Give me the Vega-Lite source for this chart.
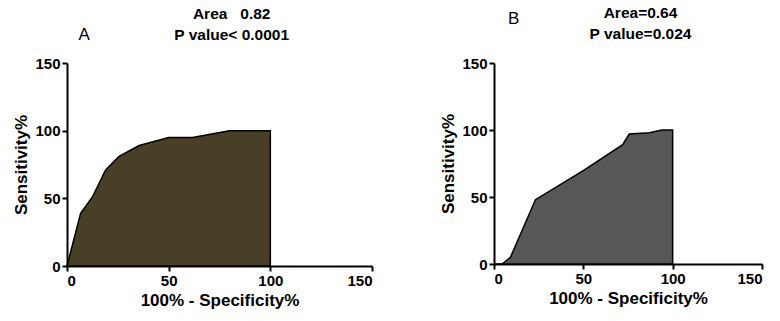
{
  "$schema": "https://vega.github.io/schema/vega-lite/v6.json",
  "background": "white",
  "padding": {"left": 12, "top": 6, "right": 5, "bottom": 5},
  "spacing": 66,
  "config": {
    "view": {"stroke": null},
    "font": "Liberation Sans",
    "axis": {
      "grid": false,
      "domainColor": "black",
      "domainWidth": 2,
      "tickColor": "black",
      "tickWidth": 2,
      "tickSize": 5,
      "labelFont": "Liberation Sans",
      "labelFontWeight": "bold",
      "labelFontSize": 15,
      "labelColor": "black",
      "titleFont": "Liberation Sans",
      "titleFontWeight": "bold",
      "titleFontSize": 17,
      "titleColor": "black"
    }
  },
  "datasets": {
    "rocA": [
      {"fpr": 0, "sens": 0},
      {"fpr": 6.7, "sens": 39},
      {"fpr": 12.5, "sens": 51},
      {"fpr": 19, "sens": 71},
      {"fpr": 25.6, "sens": 81},
      {"fpr": 35.5, "sens": 89},
      {"fpr": 50, "sens": 95},
      {"fpr": 61.7, "sens": 95},
      {"fpr": 80, "sens": 100},
      {"fpr": 100, "sens": 100}
    ],
    "rocB": [
      {"fpr": 0, "sens": 0},
      {"fpr": 4.5, "sens": 0},
      {"fpr": 9.2, "sens": 5},
      {"fpr": 23.2, "sens": 48},
      {"fpr": 50.4, "sens": 70},
      {"fpr": 72, "sens": 89},
      {"fpr": 75.7, "sens": 97},
      {"fpr": 87, "sens": 98},
      {"fpr": 94, "sens": 100},
      {"fpr": 100, "sens": 100}
    ],
    "headA": [
      {"t": "Area\u00a0\u00a0\u00a00.82", "x": 81, "y": 186},
      {"t": "P value< 0.0001", "x": 81, "y": 171}
    ],
    "panA": [{"t": "A", "x": 8.4, "y": 171}],
    "headB": [
      {"t": "Area=0.64", "x": 82, "y": 187},
      {"t": "P value=0.024", "x": 82, "y": 172}
    ],
    "panB": [{"t": "B", "x": 11, "y": 183}]
  },
  "hconcat": [
    {
      "width": 305,
      "height": 203,
      "layer": [
        {
          "data": {"name": "rocA"},
          "mark": {"type": "area", "fill": "#483f26", "stroke": "black", "strokeWidth": 1.5},
          "encoding": {
            "x": {"field": "fpr", "type": "quantitative", "scale": {"domain": [0, 150], "nice": false}, "axis": {"values": [0, 50, 100, 150]}, "title": "100% - Specificity%"},
            "y": {"field": "sens", "type": "quantitative", "scale": {"domain": [0, 150], "nice": false}, "axis": {"values": [0, 50, 100, 150]}, "title": "Sensitivity%"}
          }
        },
        {
          "data": {"name": "headA"},
          "mark": {"type": "text", "fontSize": 15.5, "fontWeight": "bold", "font": "Liberation Sans", "align": "center", "baseline": "middle", "clip": false},
          "encoding": {
            "x": {"field": "x", "type": "quantitative", "scale": {"domain": [0, 150], "nice": false}},
            "y": {"field": "y", "type": "quantitative", "scale": {"domain": [0, 150], "nice": false}},
            "text": {"field": "t"}
          }
        },
        {
          "data": {"name": "panA"},
          "mark": {"type": "text", "fontSize": 17, "font": "Liberation Sans", "align": "center", "baseline": "middle", "clip": false},
          "encoding": {
            "x": {"field": "x", "type": "quantitative", "scale": {"domain": [0, 150], "nice": false}},
            "y": {"field": "y", "type": "quantitative", "scale": {"domain": [0, 150], "nice": false}},
            "text": {"field": "t"}
          }
        }
      ]
    },
    {
      "width": 268,
      "height": 201,
      "layer": [
        {
          "data": {"name": "rocB"},
          "mark": {"type": "area", "fill": "#575757", "stroke": "black", "strokeWidth": 1.5},
          "encoding": {
            "x": {"field": "fpr", "type": "quantitative", "scale": {"domain": [0, 150], "nice": false}, "axis": {"values": [0, 50, 100, 150]}, "title": "100% - Specificity%"},
            "y": {"field": "sens", "type": "quantitative", "scale": {"domain": [0, 150], "nice": false}, "axis": {"values": [0, 50, 100, 150]}, "title": "Sensitivity%"}
          }
        },
        {
          "data": {"name": "headB"},
          "mark": {"type": "text", "fontSize": 15.5, "fontWeight": "bold", "font": "Liberation Sans", "align": "center", "baseline": "middle", "clip": false},
          "encoding": {
            "x": {"field": "x", "type": "quantitative", "scale": {"domain": [0, 150], "nice": false}},
            "y": {"field": "y", "type": "quantitative", "scale": {"domain": [0, 150], "nice": false}},
            "text": {"field": "t"}
          }
        },
        {
          "data": {"name": "panB"},
          "mark": {"type": "text", "fontSize": 17, "font": "Liberation Sans", "align": "center", "baseline": "middle", "clip": false},
          "encoding": {
            "x": {"field": "x", "type": "quantitative", "scale": {"domain": [0, 150], "nice": false}},
            "y": {"field": "y", "type": "quantitative", "scale": {"domain": [0, 150], "nice": false}},
            "text": {"field": "t"}
          }
        }
      ]
    }
  ]
}
